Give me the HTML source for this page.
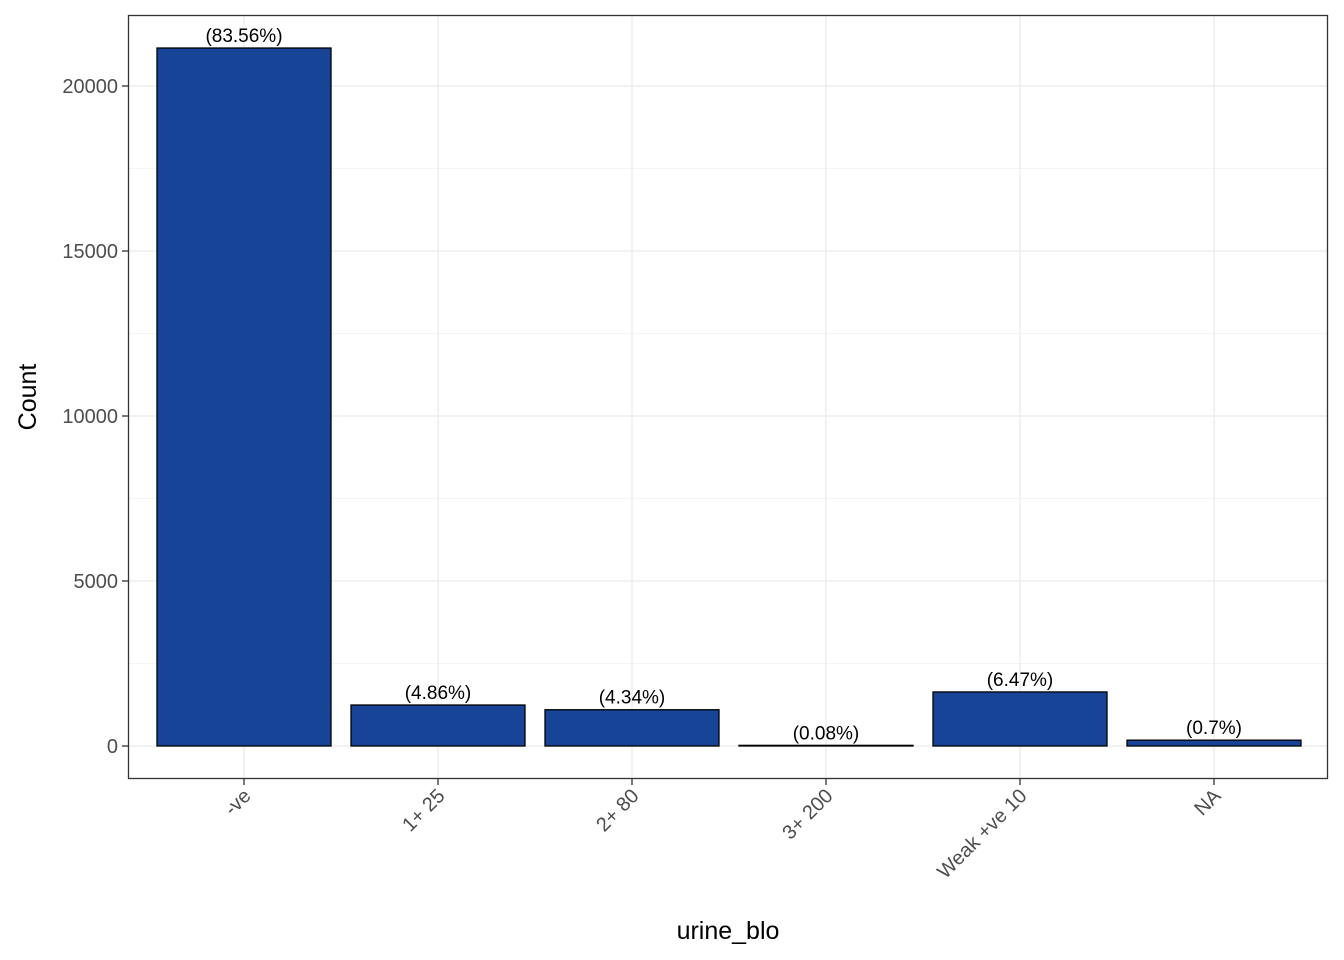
<!DOCTYPE html>
<html><head><meta charset="utf-8"><style>body{margin:0;background:#fff}svg{display:block;font-family:"Liberation Sans",Arial,sans-serif}</style></head>
<body>
<svg id="chart" width="1344" height="960" xmlns="http://www.w3.org/2000/svg">
<rect x="0" y="0" width="1344" height="960" fill="#fff"/>
<g id="grid"></g><g id="bars"></g><g id="labels"></g><g id="axes"></g>
<rect x="128.5" y="15.5" width="1199" height="763" fill="none" stroke="#333" stroke-width="1.3"/>
<text x="728" y="939" text-anchor="middle" font-size="25" fill="#000">urine_blo</text>
<text transform="translate(36,397) rotate(-90)" text-anchor="middle" font-size="25" fill="#000">Count</text>
</svg>
<script>
const categories = ["-ve","1+ 25","2+ 80","3+ 200","Weak +ve 10","NA"];
const counts = [21151,1242,1099,20,1638,177];
const pctLabels = ["(83.56%)","(4.86%)","(4.34%)","(0.08%)","(6.47%)","(0.7%)"];
const yTicks = [0,5000,10000,15000,20000];
const NS="http://www.w3.org/2000/svg";
const L=128,R=1328,T=15,B=779;
const y0=746, yPer=660/20000;
const band=(R-L)/6.19;
const yS=v=>y0-v*yPer;
const xS=i=>244+i*194;
const bw=174;
function mk(t,a,p){const e=document.createElementNS(NS,t);for(const k in a)e.setAttribute(k,a[k]);p.appendChild(e);return e;}
const grid=document.getElementById('grid'),bars=document.getElementById('bars'),labels=document.getElementById('labels'),axes=document.getElementById('axes');
// minor gridlines
for(let i=0;i<yTicks.length;i++){
 const g=mk('line',{x1:L,x2:R,y1:yS(yTicks[i]),y2:yS(yTicks[i]),stroke:'#ebebeb','stroke-width':1.3},grid);
 
 
 if(i<yTicks.length-1){const v=(yTicks[i]+yTicks[i+1])/2;
  const m=mk('line',{x1:L,x2:R,y1:yS(v),y2:yS(v),stroke:'#f2f2f2','stroke-width':0.8},grid);
  
  }
 const tk=mk('line',{x1:L-6,x2:L,y1:yS(yTicks[i]),y2:yS(yTicks[i]),stroke:'#333','stroke-width':1.3},axes);
 
 
 const tl=mk('text',{x:L-10,y:yS(yTicks[i])+7,'text-anchor':'end','font-size':20,fill:'#4d4d4d'},axes);
 tl.textContent=yTicks[i];
 
 
}
categories.forEach((c,i)=>{
 const x=xS(i);
 const g=mk('line',{x1:x,x2:x,y1:T,y2:B,stroke:'#ebebeb','stroke-width':1.3},grid);
 
 
 const r=mk('rect',{x:x-bw/2,y:yS(counts[i]),width:bw,height:Math.max(0,y0-yS(counts[i])),fill:'#184497',stroke:'#000','stroke-width':1.3},bars);
 
 
 const t=mk('text',{x:x,y:yS(counts[i])-6,'text-anchor':'middle','font-size':19,fill:'#000'},labels);
 t.textContent=pctLabels[i];
 
 
 const tk=mk('line',{x1:x,x2:x,y1:B,y2:B+6,stroke:'#333','stroke-width':1.3},axes);
 
 
 const tl=mk('text',{transform:`translate(${x+8},${B+18}) rotate(-45)`,'text-anchor':'end','font-size':20,fill:'#4d4d4d'},axes);
 tl.textContent=c;
 
 
});
</script>
</body></html>
